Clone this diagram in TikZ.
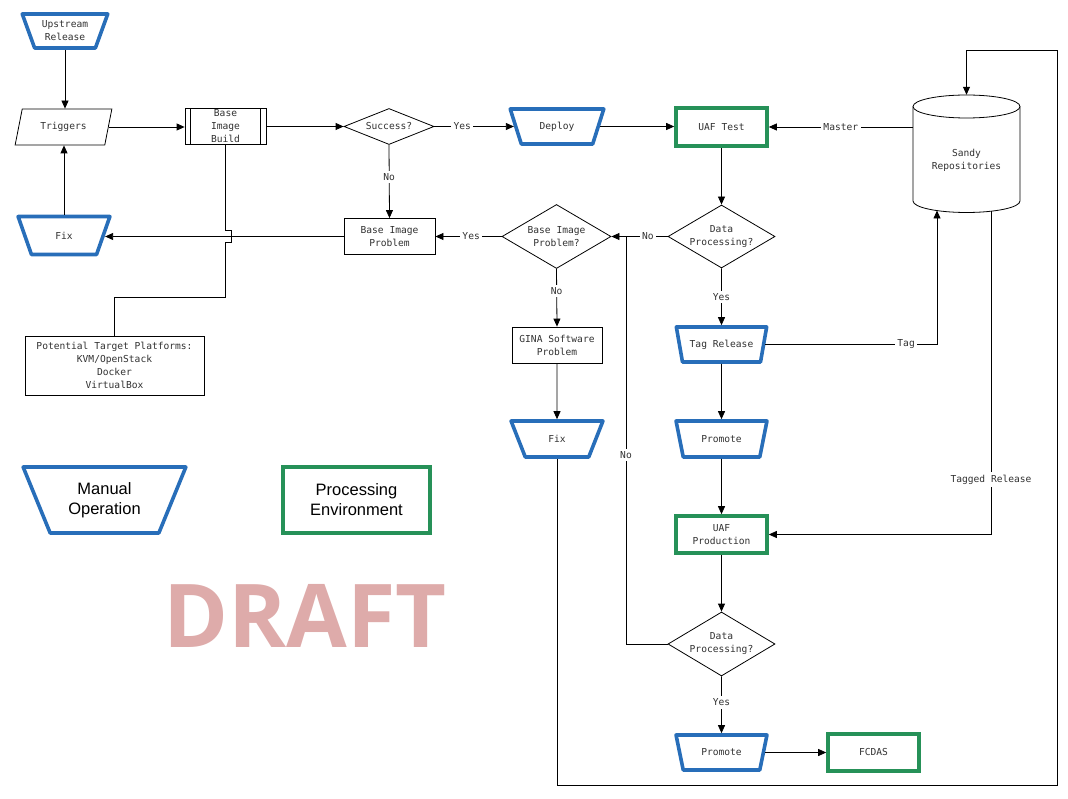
\documentclass[tikz,border=0pt]{standalone}
\usepackage{fontspec}
\setmonofont{DejaVu Sans Mono}
\setsansfont{Liberation Sans}
\newfontfamily\draftfont{Open Sans}
\usetikzlibrary{shapes.geometric,arrows.meta}
\definecolor{mblue}{RGB}{40,110,185}
\definecolor{pgreen}{RGB}{38,145,88}
\definecolor{txtgray}{RGB}{50,50,50}
\definecolor{draftpink}{RGB}{222,171,170}
\tikzset{
  base/.style={font=\ttfamily\fontsize{9.6}{13}\selectfont, text=txtgray, align=center, inner sep=0pt},
  manual/.style={base, trapezium, trapezium angle=62, shape border rotate=180, trapezium stretches=true,
    draw=mblue, line width=3.6pt, line join=round, fill=white, minimum width=92, minimum height=35},
  procenv/.style={base, rectangle, draw=pgreen, line width=3.6pt, fill=white, minimum width=91, minimum height=37},
  plainbox/.style={base, rectangle, draw=black, line width=0.8pt, fill=white},
  decision/.style={diamond, draw=black, line width=0.8pt, fill=white, inner sep=0pt},
  dtext/.style={base},
  conn/.style={draw=black, line width=0.8pt},
  arr/.style={conn, -{Triangle[length=8pt,width=7pt]}},
  lbl/.style={base, fill=white, inner sep=2.5pt}
}
\begin{document}
\begin{tikzpicture}[x=1pt,y=-1pt]
\useasboundingbox (0,0) rectangle (1068,799);

% nodes
\node[manual, minimum width=86, minimum height=34, trapezium angle=65] (upstream) at (65,31) {Upstream\\Release};
\node[base, trapezium, trapezium left angle=67, trapezium right angle=113, trapezium stretches=true,
      draw=black, line width=0.8pt, minimum width=97, minimum height=36] (triggers) at (63.5,127) {Triggers};
\node[plainbox, minimum width=81, minimum height=36] (bib) at (225.5,126.5) {Base\\Image\\Build};
\draw[conn] ([xshift=6pt]bib.north west) -- ([xshift=6pt]bib.south west);
\draw[conn] ([xshift=-6pt]bib.north east) -- ([xshift=-6pt]bib.south east);
\node[decision, minimum width=90, minimum height=36, label={[dtext]center:Success?}] (success) at (389,126.5) {};
\node[manual, minimum width=94, trapezium angle=60] (deploy) at (557,126.5) {Deploy};
\node[procenv, minimum height=38] (uaftest) at (721.5,127) {UAF Test};

% Sandy repositories cylinder
\node[inner sep=0pt, minimum width=107, minimum height=118] (sandy) at (966.5,154) {};
\draw[line width=0.8pt, fill=white] (913,106.5) -- (913,201)
   arc[start angle=180, end angle=360, x radius=53.5pt, y radius=11.5pt] -- (1020,106.5)
   arc[start angle=0, end angle=180, x radius=53.5pt, y radius=11.5pt] -- cycle;
\draw[line width=0.8pt] (913,106.5) arc[start angle=180, end angle=360, x radius=53.5pt, y radius=11.5pt];
\node[base] (sandytxt) at (966.5,160) {Sandy\\Repositories};
\coordinate (sbL) at (937,210.5);
\coordinate (sbR) at (991,211);

\node[decision, minimum width=107, minimum height=63, label={[dtext]center:Data\\Processing?}] (dp1) at (721.5,236.5) {};
\node[decision, minimum width=109, minimum height=64, label={[dtext]center:Base Image\\Problem?}] (bipq) at (556.5,236.5) {};
\node[plainbox, minimum width=91, minimum height=36] (bipbox) at (389.5,236.5) {Base Image\\Problem};
\node[manual, minimum height=38, trapezium angle=64] (fix1) at (64,235.5) {Fix};
\node[plainbox, minimum width=179, minimum height=59] (potential) at (114.5,365.5) {Potential Target Platforms:\\KVM/OpenStack\\Docker\\VirtualBox};
\node[plainbox, minimum width=90, minimum height=36] (gina) at (557,345) {GINA Software\\Problem};
\node[manual, minimum width=91] (tag) at (721.5,344.5) {Tag Release};
\node[manual, minimum height=36] (fix2) at (557,439) {Fix};
\node[manual, minimum width=91, minimum height=36] (promote1) at (721.5,439) {Promote};
\node[procenv] (uafprod) at (721.5,534.5) {UAF\\Production};
\node[decision, minimum width=107, minimum height=64, label={[dtext]center:Data\\Processing?}] (dp2) at (721.5,644) {};
\node[manual, minimum width=91] (promote2) at (721.5,752.5) {Promote};
\node[procenv] (fcdas) at (873.5,752.5) {FCDAS};

% legend
\node[manual, font=\sffamily\fontsize{16.5}{20}\selectfont, text=black, minimum width=163, minimum height=66, trapezium angle=63] (legman) at (104.5,500) {Manual\\Operation};
\node[procenv, font=\sffamily\fontsize{16.5}{20}\selectfont, text=black, minimum width=147, minimum height=66] (legproc) at (356.5,500) {Processing\\Environment};
\node[font=\draftfont\bfseries\fontsize{88}{88}\selectfont, text=draftpink, inner sep=0pt] (draft) at (305,616) {DRAFT};

% connectors
\draw[arr] (upstream.south) -- (upstream.south |- triggers.north);
\draw[arr] (fix1.north) -- (fix1.north |- triggers.south);
\draw[arr] (triggers.east) -- (triggers.east -| bib.west);
\draw[arr] (bib.east) -- (success.west);
\draw[arr] (success.east) -- node[lbl, pos=0.35]{Yes} (success.east -| deploy.west);
\draw[arr] (deploy.east) -- (deploy.east -| uaftest.west);
\draw[arr] (sandy.west |- uaftest.east) -- node[lbl]{Master} (uaftest.east);
\draw[arr] (uaftest.south) -- (dp1.north);
\draw[arr] (dp1.south) -- node[lbl]{Yes} (tag.north);
\draw[arr] (dp1.west) -- node[lbl, pos=0.35]{No} (dp1.west -| bipq.east);
\draw[arr] (bipq.west) -- node[lbl, pos=0.46]{Yes} (bipbox.east);
\draw[arr] (success.south) -- node[lbl, pos=0.44]{No} (bipbox.north);
\draw[arr] (bipbox.west) -- (bipbox.west -| fix1.east);
\draw[conn] (bib.south) -- (225.5,230) -- (231,230) -- (231,242) -- (225.5,242) -- (225.5,297) -| (potential.north);
\draw[arr] (bipq.south) -- node[lbl, pos=0.39]{No} (gina.north);
\draw[arr] (gina.south) -- (fix2.north);
\draw[arr] (tag.east) -- node[lbl, pos=0.82]{Tag} (tag.east -| sbL) -- (sbL);
\draw[arr] (tag.south) -- (promote1.north);
\draw[arr] (promote1.south) -- (uafprod.north);
\draw[arr] (sbR) |- node[lbl, pos=0.415]{Tagged Release} (uafprod.east);
\draw[arr] (uafprod.south) -- (dp2.north);
\coordinate (nojoin) at (626,236.5);
\draw[conn] (dp2.west) -| node[lbl, pos=0.732]{No} (nojoin);
\draw[arr] (dp2.south) -- node[lbl, pos=0.46]{Yes} (promote2.north);
\draw[arr] (promote2.east) -- (fcdas.west);
\draw[arr] (fix2.south) |- (1057,785) -- (1057,50) -| (sandy.north);
\end{tikzpicture}
\end{document}
